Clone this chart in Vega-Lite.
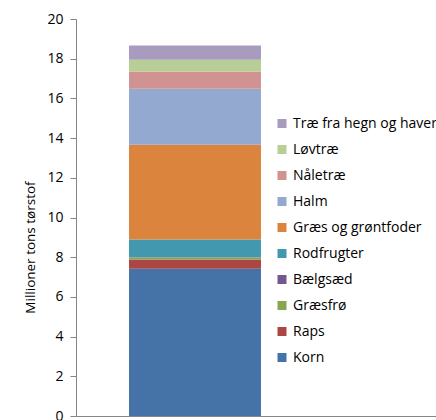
{
  "$schema": "https://vega.github.io/schema/vega-lite/v6.json",
  "autosize": {"type": "none"},
  "width": 360,
  "height": 397,
  "padding": {"left": 76, "top": 19, "right": 0, "bottom": 4},
  "background": "white",
  "config": {"view": {"stroke": null}, "font": "Open Sans"},
  "data": {"values": [
    {"cat": "Total", "type": "Korn", "idx": 1, "value": 7.42},
    {"cat": "Total", "type": "Raps", "idx": 2, "value": 0.47},
    {"cat": "Total", "type": "Græsfrø", "idx": 3, "value": 0.09},
    {"cat": "Total", "type": "Bælgsæd", "idx": 4, "value": 0.02},
    {"cat": "Total", "type": "Rodfrugter", "idx": 5, "value": 0.89},
    {"cat": "Total", "type": "Græs og grøntfoder", "idx": 6, "value": 4.78},
    {"cat": "Total", "type": "Halm", "idx": 7, "value": 2.81},
    {"cat": "Total", "type": "Nåletræ", "idx": 8, "value": 0.87},
    {"cat": "Total", "type": "Løvtræ", "idx": 9, "value": 0.6},
    {"cat": "Total", "type": "Træ fra hegn og haver", "idx": 10, "value": 0.71}
  ]},
  "mark": {"type": "bar"},
  "encoding": {
    "x": {
      "field": "cat", "type": "nominal",
      "scale": {"paddingInner": 0, "paddingOuter": 0.864, "align": 0.2325},
      "axis": {"title": null, "labels": false, "ticks": false, "domainColor": "#868686", "domainWidth": 1}
    },
    "y": {
      "field": "value", "type": "quantitative", "aggregate": "sum",
      "scale": {"domain": [0, 20], "nice": false},
      "axis": {
        "title": "Millioner tons tørstof",
        "titleFontSize": 13.5, "titleFontWeight": "normal", "titleColor": "#000",
        "titleX": -46, "titleY": 228, "titleAngle": -90, "titleAlign": "center", "titleBaseline": "middle",
        "values": [0, 2, 4, 6, 8, 10, 12, 14, 16, 18, 20],
        "labelFontSize": 14, "labelColor": "#000", "labelPadding": 7,
        "tickSize": 6, "tickColor": "#868686", "domainColor": "#868686",
        "grid": false
      }
    },
    "color": {
      "field": "type", "type": "nominal",
      "scale": {
        "domain": ["Træ fra hegn og haver", "Løvtræ", "Nåletræ", "Halm", "Græs og grøntfoder", "Rodfrugter", "Bælgsæd", "Græsfrø", "Raps", "Korn"],
        "range": ["#A99BBD", "#B9CD96", "#D19392", "#93A9CF", "#DB843D", "#4198AF", "#71588F", "#89A54E", "#AA4643", "#4572A7"]
      },
      "legend": {
        "title": null, "orient": "none", "legendX": 199, "legendY": 97.5,
        "symbolType": "square", "symbolSize": 81, "symbolStrokeWidth": 0,
        "labelFontSize": 14, "labelColor": "#000", "labelOffset": 4, "labelLimit": 0,
        "rowPadding": 12, "padding": 0
      }
    },
    "order": {"field": "idx", "type": "quantitative"}
  }
}
